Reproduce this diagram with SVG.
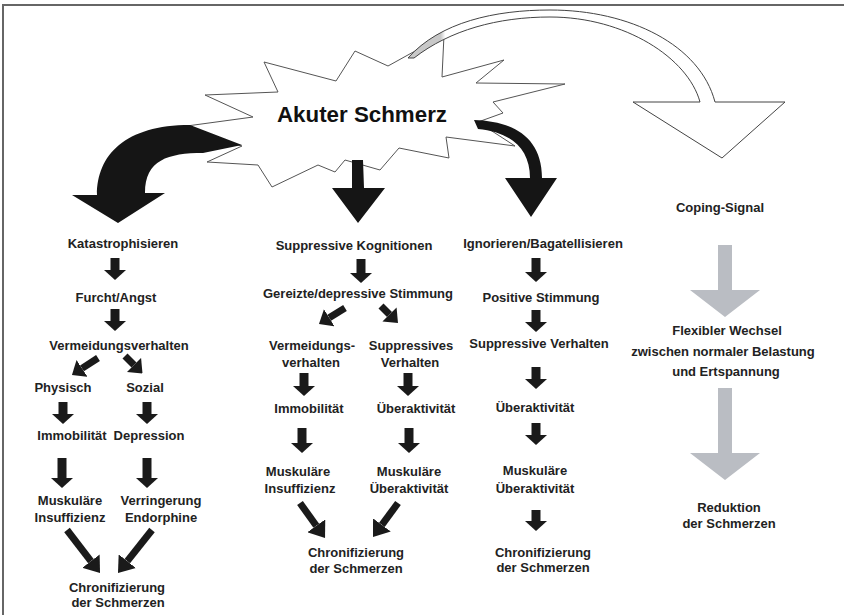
<svg xmlns="http://www.w3.org/2000/svg" width="844" height="615" viewBox="0 0 844 615">
<style>
  text { font-family: "Liberation Sans", Arial, sans-serif; font-size: 13px; font-weight: bold; fill: #222; text-anchor: middle; }
  .title { font-size: 22px; fill: #111; }
  .v { stroke: #1a1a1a; stroke-width: 9; marker-end: url(#hv); }
  .d { stroke: #1a1a1a; stroke-width: 7; marker-end: url(#hd); }
  .d2 { stroke: #1a1a1a; stroke-width: 7; marker-end: url(#hd2); }
  .big { fill: #151515; }
  .gray { fill: #babdc3; }
</style>
<defs>
  <marker id="hv" markerUnits="userSpaceOnUse" viewBox="0 -11 10 22" markerWidth="10" markerHeight="22" refX="0" refY="0" orient="auto">
    <path d="M0,-11 L10,0 L0,11 Z" fill="#1a1a1a"/>
  </marker>
  <marker id="hd" markerUnits="userSpaceOnUse" viewBox="0 -10 12 20" markerWidth="12" markerHeight="20" refX="0" refY="0" orient="auto">
    <path d="M0,-10 L12,0 L0,10 Z" fill="#1a1a1a"/>
  </marker>
  <marker id="hd2" markerUnits="userSpaceOnUse" viewBox="0 -11 15 22" markerWidth="15" markerHeight="22" refX="0" refY="0" orient="auto">
    <path d="M0,-11 L15,0 L0,11 Z" fill="#1a1a1a"/>
  </marker>
  <linearGradient id="bandfill" gradientUnits="userSpaceOnUse" x1="405" y1="0" x2="470" y2="0">
    <stop offset="0" stop-color="#c8c8c8"/>
    <stop offset="0.55" stop-color="#c8c8c8"/>
    <stop offset="0.62" stop-color="#ffffff"/>
    <stop offset="1" stop-color="#ffffff"/>
  </linearGradient>
</defs>

<rect width="844" height="615" fill="#ffffff"/>
<path d="M3,615 V5 H844" fill="none" stroke="#666" stroke-width="2"/>

<g id="akuter-schmerz">
  <polygon points="264,62 336,81 355,51 388,66 444,35 442,77 504,60 476,83 565,84 493,102 503,113 478,122 515,146 446,137 449,158 399,148 380,170 345,160 335,172 318,165 272,187 258,165 207,162 242,146 172,128 253,117 205,95 278,92" fill="#fff" stroke="#555" stroke-width="1"/>
  <text class="title" x="362" y="122" textLength="170" lengthAdjust="spacingAndGlyphs">Akuter Schmerz</text>
</g>

<g id="connectors">
  <!-- coping curved arrow -->
  <path d="M408,58 C440,22 495,10 550,10 C630,10 700,45 715,102 L785,102 L722,158 L633,102 L700,102 C688,58 625,17 550,17 C498,17 450,30 414,58 Z" fill="url(#bandfill)" stroke="#444" stroke-width="1"/>
  <!-- big black arrows -->
  <path class="big" d="M190,125 L242,145 L203,153 C168,153 145,160 145,193 L165,193 L118,223 L72,195 L97,195 C97,155 125,125 190,125 Z"/>
  <polygon class="big" points="352,160 363,160 364,188 385,188 358,223 332,188 352,188"/>
  <path class="big" d="M474,120 C510,121 542,135 542,178 L557,178 L531,217 L505,178 L530,178 C530,148 510,132 478,129 Z"/>

  <!-- left column -->
  <line class="v" x1="115" y1="258" x2="115" y2="270"/>
  <line class="v" x1="115" y1="309" x2="115" y2="321"/>
  <line class="d" x1="98" y1="358" x2="82" y2="368.4"/>
  <line class="d" x1="125" y1="356" x2="134" y2="365"/>
  <line class="v" x1="63" y1="402" x2="63" y2="414"/>
  <line class="v" x1="147" y1="402" x2="147" y2="414"/>
  <line class="v" x1="62" y1="458" x2="62" y2="478"/>
  <line class="v" x1="147" y1="458" x2="147" y2="478"/>
  <line class="d2" x1="67" y1="530" x2="90.9" y2="561.1"/>
  <line class="d2" x1="152" y1="530" x2="127.3" y2="561.2"/>

  <!-- middle column -->
  <line class="v" x1="361" y1="259" x2="361" y2="273"/>
  <line class="d" x1="345" y1="308" x2="329.2" y2="317.7"/>
  <line class="d" x1="381" y1="306" x2="389.5" y2="314.5"/>
  <line class="v" x1="304" y1="373" x2="304" y2="386"/>
  <line class="v" x1="408" y1="373" x2="408" y2="386"/>
  <line class="v" x1="302" y1="428" x2="302" y2="443"/>
  <line class="v" x1="409" y1="428" x2="409" y2="443"/>
  <line class="d2" x1="300" y1="503" x2="316.3" y2="525.8"/>
  <line class="d2" x1="398" y1="503" x2="381.9" y2="524.9"/>

  <!-- right column -->
  <line class="v" x1="536" y1="258" x2="536" y2="272"/>
  <line class="v" x1="536" y1="310" x2="536" y2="322"/>
  <line class="v" x1="536" y1="367" x2="536" y2="379"/>
  <line class="v" x1="536" y1="423" x2="536" y2="435"/>
  <line class="v" x1="536" y1="510" x2="536" y2="521"/>

  <!-- gray coping arrows -->
  <polygon class="gray" points="718,245 732,245 732,290 760,290 725,317 690,290 718,290"/>
  <polygon class="gray" points="718,388 732,388 732,453 760,453 725,480 690,453 718,453"/>
</g>

<g id="katastrophisieren"><text x="123" y="248">Katastrophisieren</text></g>
<g id="furcht-angst"><text x="116" y="302">Furcht/Angst</text></g>
<g id="vermeidungsverhalten-l"><text x="119" y="350">Vermeidungsverhalten</text></g>
<g id="physisch"><text x="63" y="392">Physisch</text></g>
<g id="sozial"><text x="145" y="392">Sozial</text></g>
<g id="immobilitaet-l"><text x="72" y="440">Immobilität</text></g>
<g id="depression"><text x="149" y="440">Depression</text></g>
<g id="muskulaere-insuffizienz-l"><text x="70" y="505">Muskuläre</text><text x="70" y="522">Insuffizienz</text></g>
<g id="verringerung-endorphine"><text x="161" y="505">Verringerung</text><text x="161" y="522">Endorphine</text></g>
<g id="chronifizierung-l"><text x="117" y="592">Chronifizierung</text><text x="118" y="607">der Schmerzen</text></g>

<g id="suppressive-kognitionen"><text x="354" y="250">Suppressive Kognitionen</text></g>
<g id="gereizte-stimmung"><text x="358" y="298">Gereizte/depressive Stimmung</text></g>
<g id="vermeidungsverhalten-m"><text x="312" y="350">Vermeidungs-</text><text x="311" y="367">verhalten</text></g>
<g id="suppressives-verhalten"><text x="411" y="350">Suppressives</text><text x="410" y="367">Verhalten</text></g>
<g id="immobilitaet-m"><text x="309" y="413">Immobilität</text></g>
<g id="ueberaktivitaet-m"><text x="416" y="413">Überaktivität</text></g>
<g id="muskulaere-insuffizienz-m"><text x="298" y="476">Muskuläre</text><text x="300" y="493">Insuffizienz</text></g>
<g id="muskulaere-ueberaktivitaet-m"><text x="409" y="476">Muskuläre</text><text x="409" y="493">Überaktivität</text></g>
<g id="chronifizierung-m"><text x="356" y="557">Chronifizierung</text><text x="356" y="573">der Schmerzen</text></g>

<g id="ignorieren"><text x="543" y="248">Ignorieren/Bagatellisieren</text></g>
<g id="positive-stimmung"><text x="541" y="302">Positive Stimmung</text></g>
<g id="suppressive-verhalten"><text x="539" y="348">Suppressive Verhalten</text></g>
<g id="ueberaktivitaet-r"><text x="535" y="412">Überaktivität</text></g>
<g id="muskulaere-ueberaktivitaet-r"><text x="535" y="475">Muskuläre</text><text x="535" y="493">Überaktivität</text></g>
<g id="chronifizierung-r"><text x="543" y="557">Chronifizierung</text><text x="543" y="572">der Schmerzen</text></g>

<g id="coping-signal"><text x="720" y="212">Coping-Signal</text></g>
<g id="flexibler-wechsel"><text x="727" y="335">Flexibler Wechsel</text><text x="723" y="356">zwischen normaler Belastung</text><text x="726" y="376">und Ertspannung</text></g>
<g id="reduktion"><text x="729" y="512">Reduktion</text><text x="729" y="528">der Schmerzen</text></g>
</svg>
